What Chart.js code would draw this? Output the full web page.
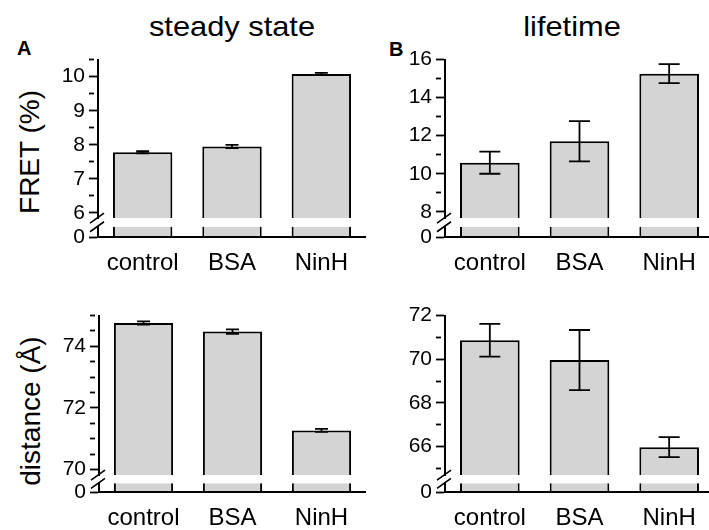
<!DOCTYPE html>
<html>
<head>
<meta charset="utf-8">
<script src="https://cdn.jsdelivr.net/npm/chart.js@4.4.1/dist/chart.umd.min.js"></script>
<style>
  html, body { margin: 0; padding: 0; background: #fff; overflow: hidden; }
  #page { position: relative; width: 709px; height: 530px; overflow: hidden; font-family: 'Liberation Sans', Arial, sans-serif; color: #000; }
  .box { position: absolute; }
  .txt { position: absolute; white-space: nowrap; line-height: 1; }
  .title { font-size: 28px; transform: translateX(-50%) scaleX(1.1); }
  .letter { font-size: 20px; font-weight: bold; }
  .ytitle { font-size: 28px; transform: translate(-50%, -50%) rotate(-90deg); }
</style>
</head>
<body>
<div id="page">
  <div class="txt title" style="left:232px; top:13px;">steady state</div>
  <div class="txt title" style="left:572px; top:13px;">lifetime</div>
  <div class="txt letter" style="left:17px; top:38px;">A</div>
  <div class="txt letter" style="left:389px; top:39px;">B</div>
  <div class="txt ytitle" style="left:30px; top:152px;">FRET (%)</div>
  <div class="txt ytitle" style="left:31px; top:411px;">distance (Å)</div>

  <div class="box" style="left:40px; top:43px;"><canvas id="cA" width="326" height="234"></canvas></div>
  <div class="box" style="left:387px; top:43px;"><canvas id="cB" width="327" height="234"></canvas></div>
  <div class="box" style="left:41px; top:299px;"><canvas id="cC" width="325" height="233"></canvas></div>
  <div class="box" style="left:387px; top:299px;"><canvas id="cD" width="327" height="233"></canvas></div>
</div>

<script>
const categorias = ['control', 'BSA', 'NinH'];

// FRET (%)
const fretEstable = [7.78, 7.95, 10.08];
const fretEstableErr = [0.03, 0.045, 0.03];
const fretVida = [10.58, 11.71, 15.26];
const fretVidaErr = [0.58, 1.06, 0.5];

// distancia (Å)
const distEstable = [74.76, 74.48, 71.27];
const distEstableErr = [0.05, 0.07, 0.05];
const distVida = [70.87, 69.96, 65.97];
const distVidaErr = [0.75, 1.38, 0.46];

const FUENTE = "'Liberation Sans', Arial, sans-serif";

// recorta cada dataset a la zona de su propio eje (eje partido)
const recorteSegmento = {
    id: 'recorteSegmento',
    beforeDatasetDraw(chart, args) {
        const y = chart.scales[args.meta.yAxisID];
        const ctx = chart.ctx;
        ctx.save();
        ctx.beginPath();
        ctx.rect(chart.chartArea.left, y.top, chart.chartArea.width, y.bottom - y.top);
        ctx.clip();
    },
    afterDatasetDraw(chart) {
        chart.ctx.restore();
    }
};

const barrasError = {
    id: 'barrasError',
    afterDatasetsDraw(chart) {
        const ds = chart.data.datasets[0];
        const meta = chart.getDatasetMeta(0);
        const y = chart.scales.yTop;
        const ctx = chart.ctx;
        const mitad = ds.anchoCapa / 2;
        ctx.save();
        ctx.strokeStyle = '#000';
        ctx.lineWidth = 1.8;
        meta.data.forEach((bar, i) => {
            const alto = y.getPixelForValue(ds.data[i] + ds.errores[i]);
            const bajo = y.getPixelForValue(ds.data[i] - ds.errores[i]);
            ctx.beginPath();
            ctx.moveTo(bar.x, alto); ctx.lineTo(bar.x, bajo);
            ctx.moveTo(bar.x - mitad, alto); ctx.lineTo(bar.x + mitad, alto);
            ctx.moveTo(bar.x - mitad, bajo); ctx.lineTo(bar.x + mitad, bajo);
            ctx.stroke();
        });
        ctx.restore();
    }
};

// las dos rayitas del corte del eje
const corteEje = {
    id: 'corteEje',
    afterDraw(chart) {
        const g = chart.scales.yGap;
        const x = chart.chartArea.left - 1;
        const ctx = chart.ctx;
        ctx.save();
        ctx.strokeStyle = '#000';
        ctx.lineWidth = 1.6;
        ctx.beginPath();
        [g.top, g.bottom].forEach(cy => {
            ctx.moveTo(x - 7, cy + 5);
            ctx.lineTo(x + 7, cy - 5);
        });
        ctx.stroke();
        ctx.restore();
    }
};

function crearPanel(canvasId, valores, errores, eje) {
    const ctx = document.getElementById(canvasId).getContext('2d');
    const esMayor = v => Math.abs(v / eje.cadaEtiqueta - Math.round(v / eje.cadaEtiqueta)) < 1e-6;

    const estiloBarra = {
        backgroundColor: '#d4d4d4',
        borderColor: '#000',
        grouped: false,
        barPercentage: 0.665,
        categoryPercentage: 1
    };

    new Chart(ctx, {
        type: 'bar',
        data: {
            labels: categorias,
            datasets: [
                Object.assign({ data: valores, yAxisID: 'yTop', borderWidth: { top: 2, left: 2, right: 2, bottom: 0 },
                    errores: errores, anchoCapa: eje.capa }, estiloBarra),
                Object.assign({ data: valores, yAxisID: 'yBot', borderWidth: { top: 0, left: 2, right: 2, bottom: 0 } }, estiloBarra)
            ]
        },
        options: {
            responsive: false,
            animation: false,
            events: [],
            layout: { padding: { top: 16, right: 0, bottom: 0, left: 0 } },
            plugins: { legend: { display: false }, tooltip: { enabled: false } },
            scales: {
                x: {
                    position: 'bottom',
                    grid: { display: false, drawTicks: false },
                    border: { color: '#000', width: 2, z: 1 },
                    ticks: { color: '#000', font: { size: 24, family: FUENTE }, padding: 12 },
                    afterFit: s => { s.height = 40; }
                },
                // en la pila de la izquierda el último eje definido queda arriba
                yBot: {
                    type: 'linear', position: 'left', stack: 'y', stackWeight: eje.pesos[2],
                    min: 0, max: 1,
                    border: { color: '#000', width: 2, z: 1 },
                    grid: { drawOnChartArea: false, color: '#000', tickLength: 9, tickWidth: 1.8 },
                    ticks: { color: '#000', padding: 4, font: { size: 21, family: FUENTE } },
                    afterBuildTicks: s => { s.ticks = [{ value: 0 }]; },
                    afterFit: s => { s.width = 58; }
                },
                yGap: {
                    type: 'linear', position: 'left', stack: 'y', stackWeight: eje.pesos[1],
                    min: 0, max: 1,
                    border: { display: false },
                    grid: { display: false },
                    ticks: { display: false },
                    afterFit: s => { s.width = 58; }
                },
                yTop: {
                    type: 'linear', position: 'left', stack: 'y', stackWeight: eje.pesos[0],
                    min: eje.min, max: eje.max,
                    border: { color: '#000', width: 2, z: 1 },
                    grid: {
                        drawOnChartArea: false, color: '#000', tickLength: 9, tickWidth: 1.8,
                        tickBorderDash: c => (c.tick && esMayor(c.tick.value)) ? [] : [5, 100]
                    },
                    ticks: {
                        stepSize: eje.paso, includeBounds: false, autoSkip: false, maxTicksLimit: 100,
                        color: '#000', padding: 4,
                        font: { size: 21, family: FUENTE },
                        callback: v => esMayor(v) ? v : ''
                    },
                    afterFit: s => { s.width = 58; }
                }
            }
        },
        plugins: [recorteSegmento, barrasError, corteEje]
    });
}

crearPanel('cA', fretEstable, fretEstableErr, { min: 5.85, max: 10.5, paso: 0.5, cadaEtiqueta: 1, capa: 13, pesos: [159, 8.7, 10.3] });
crearPanel('cB', fretVida, fretVidaErr, { min: 7.67, max: 16, paso: 1, cadaEtiqueta: 2, capa: 21, pesos: [159, 8.7, 10.3] });
crearPanel('cC', distEstable, distEstableErr, { min: 69.82, max: 75, paso: 0.5, cadaEtiqueta: 2, capa: 13, pesos: [160, 8.3, 8.7] });
crearPanel('cD', distVida, distVidaErr, { min: 64.69, max: 72, paso: 1, cadaEtiqueta: 2, capa: 21, pesos: [160, 8.3, 8.7] });
</script>
</body>
</html>
